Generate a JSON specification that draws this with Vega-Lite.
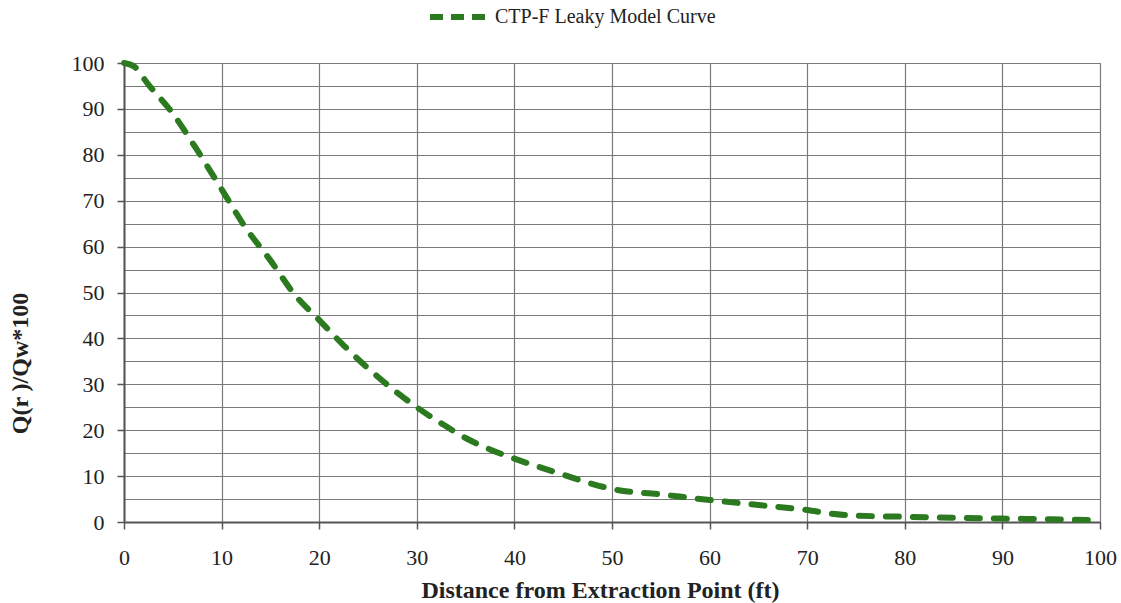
{
  "$schema": "https://vega.github.io/schema/vega-lite/v6.json",
  "autosize": "none",
  "width": 976,
  "height": 459,
  "padding": {"left": 124, "top": 63, "right": 21, "bottom": 81},
  "background": "white",
  "data": {"values": [
    {"x": 0, "y": 100}, {"x": 1, "y": 99.3}, {"x": 2.5, "y": 95.3}, {"x": 5, "y": 89},
    {"x": 7.5, "y": 81}, {"x": 10, "y": 72.5}, {"x": 12.5, "y": 64}, {"x": 15, "y": 57},
    {"x": 17.5, "y": 49.5}, {"x": 20, "y": 44}, {"x": 22.5, "y": 38.5}, {"x": 25, "y": 33.5},
    {"x": 27.5, "y": 29}, {"x": 30, "y": 25}, {"x": 32.5, "y": 21.5}, {"x": 35, "y": 18.3},
    {"x": 37.5, "y": 15.8}, {"x": 40, "y": 13.8}, {"x": 42.5, "y": 12}, {"x": 45, "y": 10.3},
    {"x": 47.5, "y": 8.6}, {"x": 50, "y": 7.2}, {"x": 55, "y": 6}, {"x": 60, "y": 4.8},
    {"x": 65, "y": 3.7}, {"x": 70, "y": 2.6}, {"x": 72.5, "y": 1.8}, {"x": 75, "y": 1.4},
    {"x": 80, "y": 1.15}, {"x": 85, "y": 0.95}, {"x": 90, "y": 0.75}, {"x": 95, "y": 0.6},
    {"x": 100, "y": 0.35}
  ]},
  "mark": {"type": "line", "interpolate": "monotone", "strokeWidth": 6, "strokeDash": [13, 14], "strokeCap": "round", "clip": false},
  "encoding": {
    "x": {
      "field": "x", "type": "quantitative",
      "scale": {"domain": [0, 100], "nice": false},
      "axis": {
        "title": "Distance from Extraction Point (ft)",
        "values": [0, 10, 20, 30, 40, 50, 60, 70, 80, 90, 100],
        "labelFlush": false,
        "tickSize": 7, "labelPadding": 18, "titlePadding": 10,
        "titleX": 476, "titleAlign": "center"
      }
    },
    "y": {
      "field": "y", "type": "quantitative",
      "scale": {"domain": [0, 100], "nice": false},
      "axis": {
        "title": "Q(r )/Qw*100",
        "values": [0, 5, 10, 15, 20, 25, 30, 35, 40, 45, 50, 55, 60, 65, 70, 75, 80, 85, 90, 95, 100],
        "labelExpr": "datum.value % 10 === 0 ? datum.label : ''",
        "labelFlush": false,
        "tickOpacity": {"condition": {"test": "datum.value % 10 === 0", "value": 1}, "value": 0},
        "tickSize": 7, "labelPadding": 13,
        "titleX": -104, "titleY": 300, "titleAngle": -90, "titleAlign": "center", "titleBaseline": "middle"
      }
    },
    "color": {
      "datum": "CTP-F Leaky Model Curve",
      "type": "nominal",
      "scale": {"range": ["#2b7a20"]},
      "legend": {
        "title": null, "orient": "none", "legendX": 303, "legendY": -79,
        "symbolType": "stroke", "symbolSize": 3600, "symbolStrokeWidth": 6,
        "symbolDash": [13, 8], "labelFontSize": 20, "labelFont": "Liberation Serif",
        "labelColor": "#222222", "labelOffset": 2, "labelLimit": 600
      }
    }
  },
  "config": {
    "view": {"stroke": "#777777", "strokeWidth": 1},
    "axis": {
      "labelFont": "Liberation Serif", "labelFontSize": 22, "labelColor": "#222222",
      "titleFont": "Liberation Serif", "titleFontSize": 24, "titleFontWeight": "bold", "titleColor": "#222222",
      "gridColor": "#7a7a7a", "gridWidth": 1.2, "gridOpacity": 1,
      "domainColor": "#555555", "domainWidth": 2, "tickColor": "#555555", "tickWidth": 1.5
    }
  }
}
